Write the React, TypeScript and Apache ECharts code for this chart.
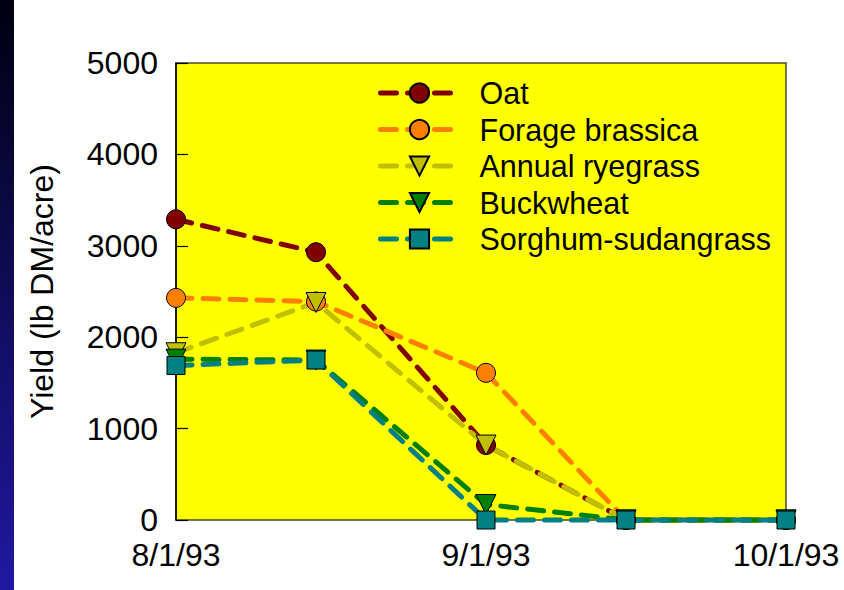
import React, { useEffect, useRef } from "react";
import * as echarts from "echarts";

// Sampling dates and dry-matter yields (lb DM/acre)
const dates = ["1993-08-01", "1993-08-15", "1993-09-01", "1993-09-15", "1993-10-01"];
const oat = [3290, 2930, 820, 0, 0];
const forageBrassica = [2430, 2390, 1610, 0, 0];
const annualRyegrass = [1830, 2380, 820, 0, 0];
const buckwheat = [1760, 1750, 170, 0, 0];
const sorghumSudangrass = [1690, 1750, 0, 0, 0];

// Tick labels of the date axis and the dates they sit on
const xTickDates = ["1993-08-01", "1993-09-01", "1993-10-01"];
const xTickLabels = ["8/1/93", "9/1/93", "10/1/93"];
const yTicks = [0, 1000, 2000, 3000, 4000, 5000];

const FONT = "'Liberation Sans', Arial, Helvetica, sans-serif";
const FONT_SIZE = 32;
const LEGEND_FONT_SIZE = 30.5;
const DAY = 86400000;
const origin = Date.UTC(1993, 7, 1);
const toDay = (s: string) => {
  const [y, m, d] = s.split("-").map(Number);
  return Math.round((Date.UTC(y, m - 1, d) - origin) / DAY);
};
const dayValues = dates.map(toDay);
const tickDays = xTickDates.map(toDay);

type SeriesDef = {
  name: string;
  values: number[];
  color: string;
  symbol: string;
  size: number;
  rotate: number;
};

const seriesDefs: SeriesDef[] = [
  { name: "Oat", values: oat, color: "#800000", symbol: "circle", size: 19, rotate: 0 },
  { name: "Forage brassica", values: forageBrassica, color: "#ff8000", symbol: "circle", size: 19, rotate: 0 },
  { name: "Annual ryegrass", values: annualRyegrass, color: "#c0c000", symbol: "triangle", size: 20, rotate: 180 },
  { name: "Buckwheat", values: buckwheat, color: "#008000", symbol: "triangle", size: 20, rotate: 180 },
  { name: "Sorghum-sudangrass", values: sorghumSudangrass, color: "#008080", symbol: "rect", size: 18, rotate: 0 },
];

export default function App() {
  const ref = useRef<HTMLDivElement>(null);

  useEffect(() => {
    if (!ref.current) return;
    const chart = echarts.init(ref.current, undefined, { renderer: "svg" });

    const option: any = {
      animation: false,
      backgroundColor: "#ffffff",
      textStyle: { fontFamily: FONT },
      graphic: [
        {
          type: "rect",
          left: 0,
          top: 0,
          shape: { width: 14, height: 590 },
          style: {
            fill: new echarts.graphic.LinearGradient(0, 0, 0, 1, [
              { offset: 0, color: "#000010" },
              { offset: 1, color: "#2018a2" },
            ]),
          },
          silent: true,
        },
      ],
      grid: {
        left: 176,
        right: 58,
        top: 63,
        bottom: 70,
        show: true,
        backgroundColor: "#ffff00",
        borderColor: "#4a4a28",
        borderWidth: 1.5,
      },
      legend: {
        left: 373,
        top: 72,
        orient: "vertical",
        itemWidth: 78,
        itemHeight: 24,
        itemGap: 4.5,
        selectedMode: false,
        textStyle: {
          fontFamily: FONT,
          fontSize: LEGEND_FONT_SIZE,
          color: "#000",
          lineHeight: 32,
          padding: [0, 0, 0, 16],
        },
        lineStyle: { width: 5, type: [16, 11], cap: "round" },
        data: seriesDefs.map((s) => s.name),
      },
      xAxis: {
        type: "value",
        min: tickDays[0],
        max: tickDays[tickDays.length - 1],
        splitLine: { show: false },
        axisLine: { show: false },
        axisTick: { show: false },
        axisLabel: {
          customValues: tickDays,
          showMinLabel: true,
          showMaxLabel: true,
          margin: 19,
          fontFamily: FONT,
          fontSize: FONT_SIZE,
          color: "#000",
          formatter: (v: number) => {
            const i = tickDays.indexOf(Math.round(v));
            return i >= 0 ? xTickLabels[i] : "";
          },
        },
      },
      yAxis: {
        type: "value",
        min: yTicks[0],
        max: yTicks[yTicks.length - 1],
        interval: 1000,
        name: "Yield (lb DM/acre)",
        nameLocation: "middle",
        nameGap: 118,
        nameRotate: 90,
        nameTextStyle: { fontFamily: FONT, fontSize: FONT_SIZE, color: "#000" },
        splitLine: { show: false },
        axisLine: { show: true, lineStyle: { color: "#000", width: 1.5 } },
        axisTick: { show: true, inside: true, length: 12, lineStyle: { color: "#000", width: 1.2 } },
        axisLabel: {
          margin: 18,
          fontFamily: FONT,
          fontSize: FONT_SIZE,
          color: "#000",
          formatter: (v: number) => String(v),
        },
      },
      series: seriesDefs.map((s) => ({
        name: s.name,
        type: "line",
        clip: false,
        data: s.values.map((v, i) => [dayValues[i], v]),
        symbol: s.symbol,
        symbolSize: s.size,
        symbolRotate: s.rotate,
        showAllSymbol: true,
        lineStyle: { color: s.color, width: 5, type: [16, 11], cap: "round" },
        itemStyle: { color: s.color, borderColor: "#000", borderWidth: 1, opacity: 1 },
        emphasis: { disabled: true },
      })),
    };

    chart.setOption(option);
    return () => chart.dispose();
  }, []);

  return (
    <div
      ref={ref}
      style={{ position: "absolute", left: 0, top: 0, width: 844, height: 590 }}
    />
  );
}
